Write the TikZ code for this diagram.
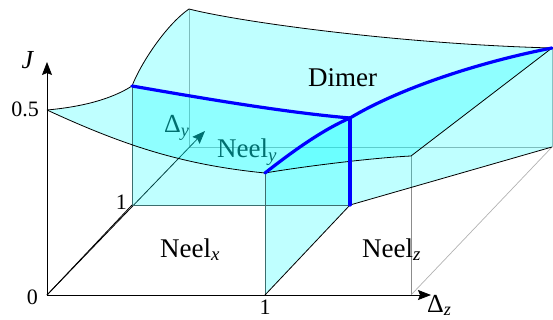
\documentclass[tikz,border=0pt]{standalone}
\usepackage{fontspec}
\setmainfont{Liberation Serif}
\newfontfamily\labfont{Liberation Serif}
\usetikzlibrary{arrows.meta}
\definecolor{cyanrgb}{RGB}{0,255,255}
\definecolor{edgeteal}{RGB}{60,110,110}
\definecolor{hiddenc}{RGB}{135,195,195}
\definecolor{bluergb}{RGB}{0,0,255}
\tikzset{
  face/.style={fill=cyanrgb, fill opacity=0.25, draw=none},
  edge/.style={draw=black, line width=0.8pt},
  tealedge/.style={draw=edgeteal, line width=0.8pt},
  hiddenedge/.style={draw=black!35, line width=0.8pt},
  grayedge/.style={draw=black!45, line width=0.7pt},
  lightedge/.style={draw=black!30, line width=0.7pt},
  triple/.style={draw=bluergb, line width=3.2pt, line cap=round, line join=round},
  axis/.style={draw=black, line width=0.8pt, -{Stealth[length=13pt,width=10pt,inset=2pt]}},
  phase/.style={font=\labfont\fontsize{27}{31}\selectfont, inner sep=0pt},
  num/.style={font=\labfont\fontsize{22}{26}\selectfont, inner sep=0pt},
  axlab/.style={font=\labfont\fontsize{26}{30}\selectfont, inner sep=0pt},
}
\begin{document}
\begin{tikzpicture}[x=1pt,y=-1pt]
\useasboundingbox (0,0) rectangle (553,320);
% key points
\coordinate (O) at (47,295);
\coordinate (Jtip) at (47,62);
\coordinate (Zend) at (411,295);
\coordinate (Ztip) at (431,295);
\coordinate (Y1) at (132,205);
\coordinate (Ytip) at (205,131);
\coordinate (Z1) at (265,295);
\coordinate (YZ1) at (350,205);
\coordinate (Yb) at (189,147);
\coordinate (Bb) at (552,147);
\coordinate (A) at (47,110);
\coordinate (B) at (132,86);
\coordinate (C) at (189,9);
\coordinate (D) at (552,48);
\coordinate (E) at (350,118);
\coordinate (F) at (265,173);
\coordinate (G) at (411,156);

% elements seen through the translucent faces
\draw[hiddenedge] (Yb) -- (C);
\draw[hiddenedge] (Yb) -- (Bb);
\draw[grayedge] (Zend) -- (G);
\draw[axis] (O) -- (Ytip);
\node[axlab, anchor=base west] (dylab) at (164,133) {Δ\textsubscript{\textit{y}}};
\node[phase, anchor=base west] (neely) at (217,158) {Neel\textsubscript{\textit{y}}};

% faces
\fill[face] (A) .. controls (80,107) and (110,100) .. (B)
  .. controls (190,96) and (280,112) .. (E)
  .. controls (320,131) and (288,155) .. (F)
  .. controls (185,165) and (127,147) .. (A) -- cycle;
\fill[face] (B) .. controls (141,63) and (166,25) .. (C)
  .. controls (240,22) and (400,44) .. (D)
  .. controls (480,62) and (400,88) .. (E)
  .. controls (280,112) and (190,96) .. (B) -- cycle;
\fill[face] (F) .. controls (288,155) and (320,131) .. (E)
  .. controls (400,88) and (480,62) .. (D)
  -- (G)
  .. controls (370,158) and (300,167) .. (F) -- cycle;
\fill[face] (Y1) -- (B) .. controls (190,96) and (280,112) .. (E) -- (YZ1) -- cycle;
\fill[face] (Z1) -- (F) .. controls (288,155) and (320,131) .. (E) -- (YZ1) -- cycle;
\fill[face] (YZ1) -- (E) .. controls (400,88) and (480,62) .. (D) -- (Bb) -- cycle;

% edges
\draw[lightedge] (Zend) -- (Bb);
\draw[draw=hiddenc, line width=0.8pt] (Bb) -- (D);
\draw[tealedge] (Y1) -- (B);
\draw[tealedge] (Y1) -- (YZ1);
\draw[tealedge] (Z1) -- (F);
\draw[edge] (Z1) -- (YZ1);
\draw[edge] (YZ1) -- (Bb);
\draw[edge] (A) .. controls (80,107) and (110,100) .. (B);
\draw[edge] (B) .. controls (141,63) and (166,25) .. (C);
\draw[edge] (C) .. controls (240,22) and (400,44) .. (D);
\draw[edge] (A) .. controls (127,147) and (185,165) .. (F);
\draw[edge] (F) .. controls (300,167) and (370,158) .. (G);
\draw[edge] (G) -- (D);
\draw[edge] (O) -- (Y1);

% axes
\draw[axis] (O) -- (Jtip);
\draw[axis] (O) -- (Ztip);

% phase boundaries
\draw[triple] (B) .. controls (190,96) and (280,112) .. (E);
\draw[triple] (F) .. controls (288,155) and (320,131) .. (E);
\draw[triple] (E) .. controls (400,88) and (480,62) .. (D);
\draw[triple] (E) -- (YZ1);

% labels
\node[axlab, anchor=center] (jlab) at (28,60) {\textit{J}};
\node[num, anchor=base east] (half) at (39,117) {0.5};
\node[num, anchor=base east] (zero) at (38,304) {0};
\node[num, anchor=base east] (oney) at (127,209) {1};
\node[num, anchor=base] (onez) at (265,314) {1};
\node[axlab, anchor=base west] (dzlab) at (427,312) {Δ\textsubscript{\textit{z}}};
\node[phase, anchor=base west] (neelx) at (160,257) {Neel\textsubscript{\textit{x}}};
\node[phase, anchor=base west] (neelz) at (362,257) {Neel\textsubscript{\textit{z}}};
\node[phase, anchor=base west] (dimer) at (308,87) {Dimer};
\end{tikzpicture}
\end{document}
